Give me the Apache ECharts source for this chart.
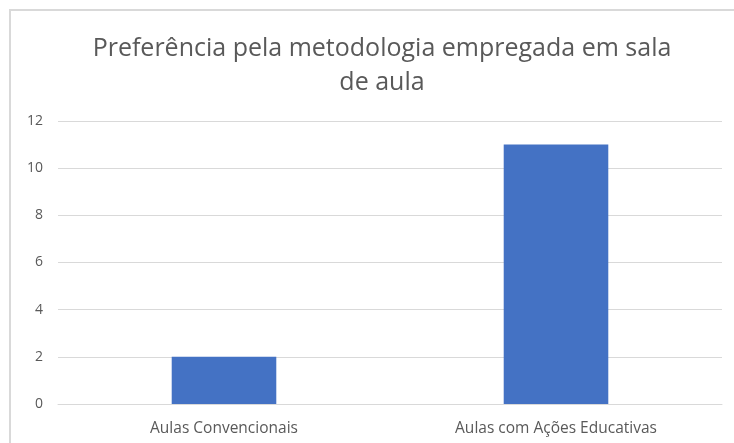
<!DOCTYPE html>
<html><head><meta charset="utf-8">
<script src="https://cdn.jsdelivr.net/npm/echarts@6/dist/echarts.min.js"></script>
<style>html,body{margin:0;padding:0;background:#fff}#c{width:734px;height:443px}</style>
</head><body><div id="c"></div>
<script>
const categories = ['Aulas Convencionais', 'Aulas com Ações Educativas'];
const values = [2, 11];
const titleText = 'Preferência pela metodologia empregada em sala\nde aula';
const chart = echarts.init(document.getElementById('c'));
chart.setOption({
  animation: false,
  graphic: [{type:'rect', shape:{x:10,y:10,width:740,height:450}, style:{fill:'none', stroke:'#d9d9d9', lineWidth:2}, silent:true}],
  title: {text: titleText, left: 377, textAlign: 'center', top: 27,
    textStyle: {fontFamily: 'Open Sans', fontSize: 25, fontWeight: 'normal', color: '#595959', lineHeight: 34}},
  grid: {left: 58, right: 12, top: 121, bottom: 39, containLabel: false},
  xAxis: {type: 'category', data: categories,
    axisLine: {show: true, lineStyle: {color: '#d9d9d9'}}, axisTick: {show: false},
    axisLabel: {color: '#595959', fontSize: 15.5, fontFamily: 'Open Sans', margin: 17}},
  yAxis: {type: 'value', min: 0, max: 12, interval: 2,
    axisLine: {show: false}, axisTick: {show: false},
    splitLine: {lineStyle: {color: '#d9d9d9'}},
    axisLabel: {color: '#595959', fontSize: 14, fontFamily: 'Open Sans', margin: 15}},
  series: [{type: 'bar', data: values, barWidth: '31.5%', itemStyle: {color: '#4472C4'}}]
});
</script></body></html>
